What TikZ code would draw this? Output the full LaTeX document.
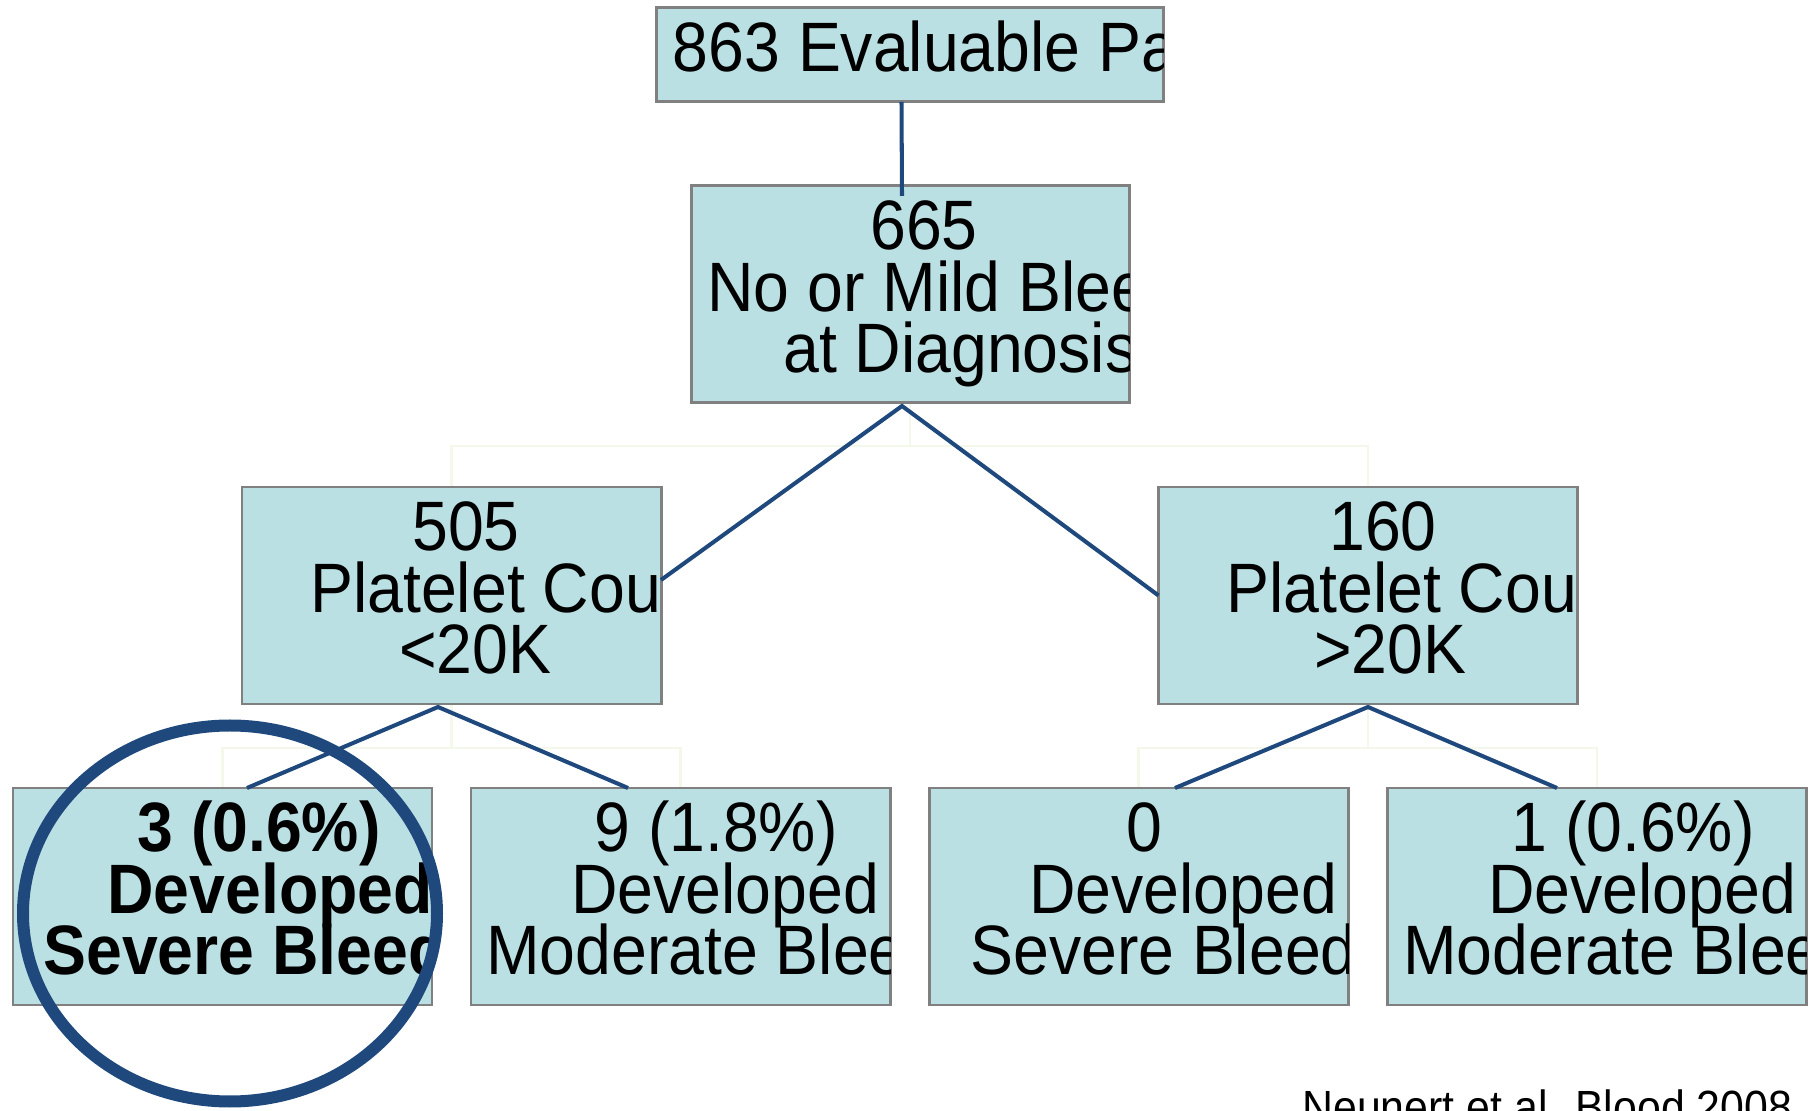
\documentclass[tikz,border=0pt]{standalone}
\usepackage{fontspec}
\setmainfont{Liberation Sans}[FakeStretch=0.92]
\usetikzlibrary{shapes.geometric, positioning, calc, backgrounds}
\definecolor{boxblue}{RGB}{187,224,227}
\definecolor{boxgray}{RGB}{128,128,128}
\definecolor{linkblue}{RGB}{31,73,125}
\definecolor{ghostgreen}{RGB}{243,248,235}
\newcommand{\celltext}{\fontsize{39.8pt}{44pt}\selectfont}

\begin{document}
\begin{tikzpicture}[
    cell/.style={rectangle, draw=boxgray, fill=boxblue, line width=1.7pt, minimum width=8.38cm, minimum height=4.34cm, inner sep=0pt, outer sep=0pt},
    txt/.style={font=\celltext, inner sep=0pt, anchor=base},
    txtl/.style={txt, anchor=base west},
    boldtxt/.style={font=\celltext\bfseries},
    branch/.style={draw=linkblue, line width=2.3pt},
    ghost/.style={draw=ghostgreen, line width=1.2pt},
    ring/.style={ellipse, draw=linkblue, line width=0.24cm, minimum width=8.28cm, minimum height=7.52cm, inner sep=0pt}
  ]

\useasboundingbox (0,0) rectangle (36.36,22.22);
\clip (0,0) rectangle (36.36,22.22);

% Boxes
\node[cell, minimum width=10.14cm, minimum height=1.88cm] (root) at (18.19,21.12) {};
\node[cell, minimum width=8.76cm] (mid) at (18.2,16.33) {};
\node[cell] (low) at (9.03,10.31) {};
\node[cell] (high) at (27.36,10.31) {};
\node[cell] (lowsev) at (4.45,4.29) {};
\node[cell] (lowmod) at (13.61,4.29) {};
\node[cell] (highsev) at (22.77,4.29) {};
\node[cell] (highmod) at (31.94,4.29) {};

% Faint leftover elbow lines
\begin{scope}[on background layer]
\coordinate (fork1) at (18.2,13.3);
\coordinate (fork2) at (9.03,7.26);
\coordinate (fork3) at (27.36,7.26);
\draw[ghost] (mid.south) -- (fork1);
\draw[ghost] (low.north) |- (fork1) -| (high.north);
\draw[ghost] (low.south) -- (fork2);
\draw[ghost] (lowsev.north) |- (fork2) -| (lowmod.north);
\draw[ghost] (high.south) -- (fork3);
\draw[ghost] (highsev.north) |- (fork3) -| (highmod.north);
\end{scope}

% Box texts (cut off at the box edges)
\begin{scope}
\clip (root.south west) rectangle (root.north east);
\node[txtl] (root1) at (13.45,20.78) {863 Evaluable Pa};
\end{scope}
\begin{scope}
\clip (mid.south west) rectangle (mid.north east);
\node[txt] (mid1) at (18.48,17.22) {665};
\node[txtl] (mid2) at (14.14,15.99) {No or Mild Blee};
\node[txtl] (mid3) at (15.66,14.76) {at Diagnosis};
\end{scope}
\begin{scope}
\clip (low.south west) rectangle (low.north east);
\node[txt] (low1) at (9.32,11.2) {505};
\node[txtl] (low2) at (6.2,9.97) {Platelet Cou};
\node[txtl] (low3) at (7.98,8.74) {<20K};
\end{scope}
\begin{scope}
\clip (high.south west) rectangle (high.north east);
\node[txt] (high1) at (27.66,11.2) {160};
\node[txtl] (high2) at (24.52,9.97) {Platelet Cou};
\node[txtl] (high3) at (26.28,8.74) {>20K};
\end{scope}
\begin{scope}
\clip (lowsev.south west) rectangle (lowsev.north east);
\node[txt, boldtxt] (lowsev1) at (5.18,5.18) {3 (0.6\%)};
\node[txtl, boldtxt] (lowsev2) at (2.14,3.95) {Developed};
\node[txtl, boldtxt] (lowsev3) at (0.86,2.72) {Severe Bleed};
\end{scope}
\begin{scope}
\clip (lowmod.south west) rectangle (lowmod.north east);
\node[txt] (lowmod1) at (14.32,5.18) {9 (1.8\%)};
\node[txtl] (lowmod2) at (11.42,3.95) {Developed};
\node[txtl] (lowmod3) at (9.72,2.72) {Moderate Blee};
\end{scope}
\begin{scope}
\clip (highsev.south west) rectangle (highsev.north east);
\node[txt] (highsev1) at (22.88,5.18) {0};
\node[txtl] (highsev2) at (20.58,3.95) {Developed};
\node[txtl] (highsev3) at (19.4,2.72) {Severe Bleed};
\end{scope}
\begin{scope}
\clip (highmod.south west) rectangle (highmod.north east);
\node[txt] (highmod1) at (32.66,5.18) {1 (0.6\%)};
\node[txtl] (highmod2) at (29.76,3.95) {Developed};
\node[txtl] (highmod3) at (28.06,2.72) {Moderate Blee};
\end{scope}

% Connectors
\draw[branch] ([xshift=-0.16cm]root.south) -- ([xshift=-0.16cm,yshift=-0.2cm]mid.north);
\draw[branch] ([yshift=0.31cm]low.east) -- ([xshift=-0.16cm,yshift=-0.06cm]mid.south) -- (high.west);
\draw[branch] ([xshift=0.49cm]lowsev.north) -- ([xshift=-0.27cm,yshift=-0.06cm]low.south) -- ([xshift=-1.05cm]lowmod.north);
\draw[branch] ([xshift=0.73cm]highsev.north) -- ([yshift=-0.06cm]high.south) -- ([xshift=-0.8cm]highmod.north);

% Highlight and source
\node[ring] (circ) at (4.6,3.95) {};
\node[font=\fontsize{26.5pt}{29pt}\selectfont, anchor=base west, inner sep=0pt] (cite) at (26.04,-0.25) {Neunert et al. Blood 2008};

\end{tikzpicture}
\end{document}
